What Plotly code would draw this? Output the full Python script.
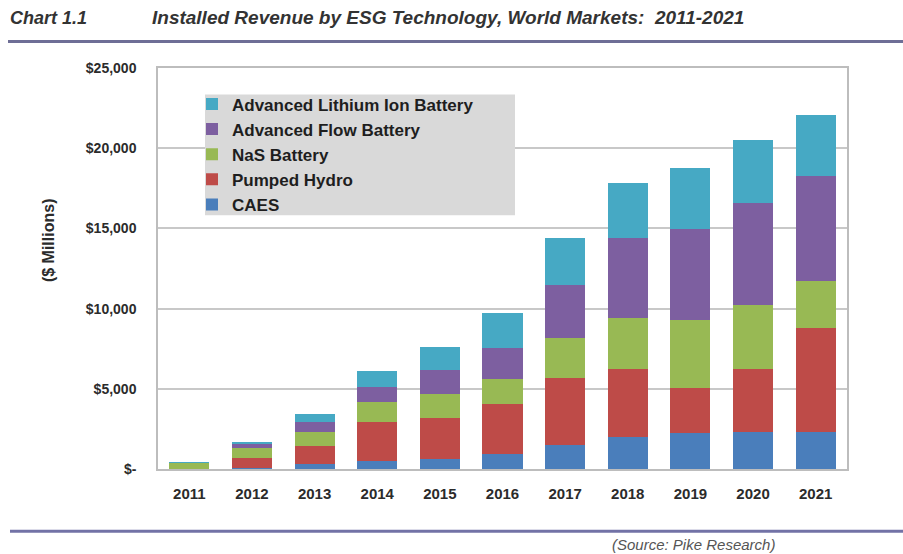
import plotly.graph_objects as go

# Installed revenue by energy storage technology, $ millions
years = ["2011", "2012", "2013", "2014", "2015", "2016", "2017", "2018", "2019", "2020", "2021"]
caes = [0, 40, 300, 480, 620, 950, 1510, 1990, 2260, 2300, 2300]
pumped_hydro = [30, 660, 1150, 2480, 2560, 3120, 4190, 4270, 2810, 3960, 6500]
nas_battery = [380, 600, 830, 1200, 1500, 1520, 2440, 3170, 4250, 3960, 2920]
flow_battery = [10, 280, 620, 980, 1500, 1980, 3360, 4960, 5630, 6390, 6520]
lithium_ion = [10, 100, 530, 1000, 1440, 2130, 2890, 3470, 3810, 3880, 3860]

tick_vals = [0, 5000, 10000, 15000, 20000, 25000]
tick_text = ["$-", "$5,000", "$10,000", "$15,000", "$20,000", "$25,000"]

series = [
    ("CAES", caes, "#4a7ebb"),
    ("Pumped Hydro", pumped_hydro, "#be4b48"),
    ("NaS Battery", nas_battery, "#98b954"),
    ("Advanced Flow Battery", flow_battery, "#7d5fa0"),
    ("Advanced Lithium Ion Battery", lithium_ion, "#46a9c4"),
]

W, H = 903, 554
L, R, T, B = 158, 847, 67.5, 469.5

def px(x):
    return (x - L) / (R - L)

def py(y):
    return (B - y) / (B - T)

FONT = "Liberation Sans, Arial, sans-serif"
TXT = "#2b2b2b"

fig = go.Figure()
for name, vals, color in series:
    fig.add_trace(go.Bar(x=years, y=vals, name=name, marker=dict(color=color, line=dict(width=0))))

fig.update_layout(
    width=W, height=H,
    margin=dict(l=L, r=W - R, t=T, b=H - B),
    barmode="stack",
    bargap=0.36,
    plot_bgcolor="white",
    paper_bgcolor="white",
    font=dict(family=FONT, color=TXT),
    showlegend=True,
    legend=dict(
        traceorder="reversed",
        x=px(192), y=py(86), xanchor="left", yanchor="top",
        bgcolor="rgba(0,0,0,0)",
        font=dict(family=FONT, size=17, color="#1e1e1e", weight="bold"),
        itemwidth=30,
    ),
)

fig.update_xaxes(
    type="category",
    showline=True, linecolor="#bdbdbd", linewidth=1.5, mirror=True,
    showgrid=False, ticks="",
    tickfont=dict(family=FONT, size=15, color=TXT, weight="bold"),
    ticklabelstandoff=10,
)
fig.update_yaxes(
    range=[0, 25000],
    tickvals=tick_vals, ticktext=tick_text,
    showline=True, linecolor="#bdbdbd", linewidth=1.5, mirror=True,
    showgrid=True, gridcolor="#c8c8c8", gridwidth=1.5,
    zeroline=False, ticks="",
    tickfont=dict(family=FONT, size=14, color=TXT, weight="bold"),
    ticklabelstandoff=17,
)

# Gray panel behind the legend entries
fig.add_shape(type="rect", xref="paper", yref="paper", layer="above",
              x0=px(205), x1=px(515), y0=py(215), y1=py(94),
              fillcolor="#d9d9d9", line=dict(width=0))

# Header, axis title and footer
fig.add_annotation(text="<b><i>Chart 1.1</i></b>", xref="paper", yref="paper",
                   x=px(8), y=py(17), xanchor="left", yanchor="middle", showarrow=False,
                   font=dict(family=FONT, size=18, color="#333333"))
fig.add_annotation(text="<b><i>Installed Revenue by ESG Technology, World Markets:  2011-2021</i></b>",
                   xref="paper", yref="paper",
                   x=px(150), y=py(17), xanchor="left", yanchor="middle", showarrow=False,
                   font=dict(family=FONT, size=19, color="#333333"))
fig.add_annotation(text="<b>($ Millions)</b>", xref="paper", yref="paper",
                   x=px(48), y=py(240), xanchor="center", yanchor="middle", showarrow=False,
                   textangle=-90, font=dict(family=FONT, size=16, color=TXT))
fig.add_annotation(text="<i>(Source: Pike Research)</i>", xref="paper", yref="paper",
                   x=px(610), y=py(545), xanchor="left", yanchor="middle", showarrow=False,
                   font=dict(family=FONT, size=15, color="#555555"))

fig.add_shape(type="line", xref="paper", yref="paper",
              x0=px(8), x1=px(903), y0=py(41), y1=py(41),
              line=dict(color="#6e6e96", width=3))
fig.add_shape(type="line", xref="paper", yref="paper",
              x0=px(10), x1=px(903), y0=py(532), y1=py(532),
              line=dict(color="#7272a6", width=3))

fig.write_html("out.html")
